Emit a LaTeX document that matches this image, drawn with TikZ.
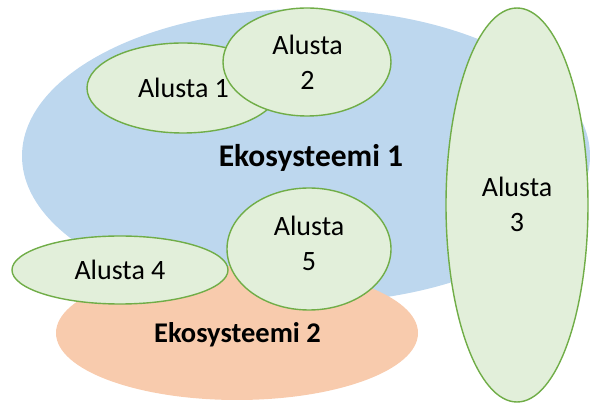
\documentclass[tikz,border=0pt]{standalone}
\usepackage{fontspec}
\setmainfont{Carlito}
\usetikzlibrary{shapes.geometric}
\definecolor{ecoblue}{HTML}{BDD7EE}
\definecolor{ecoorange}{HTML}{F8CBAD}
\definecolor{platfill}{HTML}{E2EFDA}
\definecolor{platline}{HTML}{70AD47}
\begin{document}
\begin{tikzpicture}[x=1pt,y=-1pt,
  eco/.style={ellipse,inner sep=0pt,draw=none},
  plat/.style={ellipse,inner sep=0pt,draw=platline,fill=platfill,line width=1.4pt},
  platlabel/.style={inner sep=0pt,align=center,font=\fontsize{28}{35}\selectfont},
  ecolabel/.style={inner sep=0pt,font=\bfseries}]
\useasboundingbox (0,0) rectangle (590,403);
% ecosystems
\node[eco,fill=ecoblue,minimum width=568pt,minimum height=294pt] (eco1) at (306,156) {};
\node[eco,fill=ecoorange,minimum width=362pt,minimum height=134pt] (eco2) at (237,333) {};
% platforms
\node[plat,minimum width=192pt,minimum height=90pt] (p1) at (183,88) {};
\node[plat,minimum width=168pt,minimum height=108pt] (p2) at (307,62) {};
\node[plat,minimum width=142pt,minimum height=394pt] (p3) at (517,205) {};
\node[plat,minimum width=216pt,minimum height=68pt] (p4) at (120,270) {};
\node[plat,minimum width=164pt,minimum height=122pt] (p5) at (309,249) {};
% platform labels
\node[platlabel,anchor=base] (t1) at (183.5,98) {Alusta 1};
\node[platlabel] (t2) at (307.5,62) {Alusta\\2};
\node[platlabel] (t3) at (517,204) {Alusta\\3};
\node[platlabel,anchor=base] (t4) at (120,280) {Alusta 4};
\node[platlabel] (t5) at (309,243) {Alusta\\5};
% ecosystem labels
\node[ecolabel,font=\fontsize{31.5}{36}\selectfont\bfseries,anchor=base] (l1) at (311,167) {Ekosysteemi 1};
\node[ecolabel,font=\fontsize{28.5}{34}\selectfont\bfseries,anchor=base] (l2) at (237.5,343) {Ekosysteemi 2};
\end{tikzpicture}
\end{document}
